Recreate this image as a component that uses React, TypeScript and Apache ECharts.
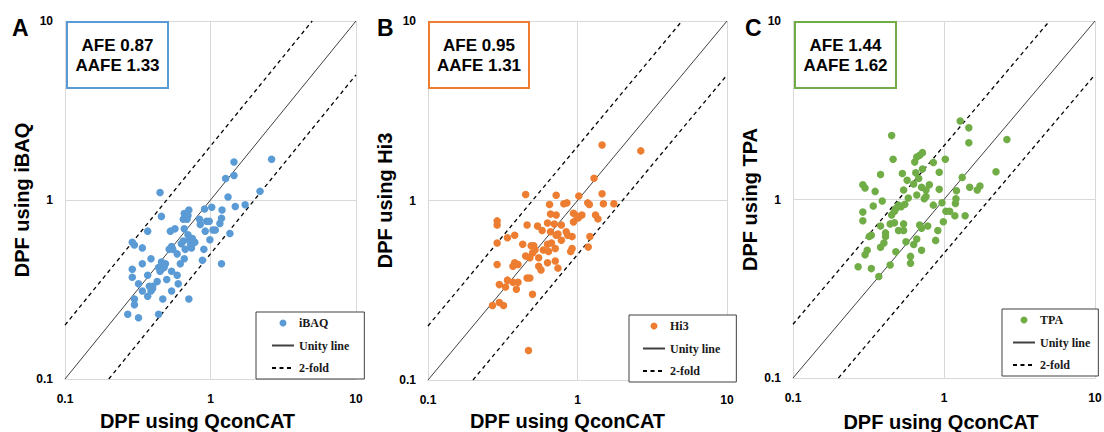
import React, { useEffect, useRef } from "react";
import * as echarts from "echarts";

// ---------- data ----------
const methodNames = ["iBAQ", "Hi3", "TPA"];
const panelLetters = ["A", "B", "C"];
const afeValues = ["0.87", "0.95", "1.44"];
const aafeValues = ["1.33", "1.31", "1.62"];
const xAxisTitle = "DPF using QconCAT";
const yAxisTitles = ["DPF using iBAQ", "DPF using Hi3", "DPF using TPA"];
const legendNames = ["Unity line", "2-fold"];

// [DPF using QconCAT, DPF using method]
const ibaqPoints: [number, number][] = [
  [2.63, 1.69], [1.45, 1.63], [1.45, 1.37], [1.27, 1.32], [0.45, 1.1], [2.19, 1.12], [1.32, 1.04],
  [1.73, 0.94], [1.48, 0.92], [1.2, 0.88], [1.02, 0.91], [0.91, 0.89], [0.71, 0.88], [0.66, 0.84],
  [0.7, 0.82], [0.65, 0.78], [0.46, 0.81], [0.84, 0.78], [0.94, 0.76], [1.19, 0.79], [1.16, 0.74],
  [0.85, 0.73], [0.37, 0.67], [0.53, 0.67], [0.57, 0.69], [0.66, 0.69], [0.92, 0.67], [1.04, 0.68],
  [1.08, 0.68], [1.36, 0.65], [0.29, 0.58], [0.3, 0.56], [0.34, 0.54], [0.7, 0.64], [0.75, 0.61],
  [0.65, 0.59], [0.73, 0.56], [0.78, 0.58], [0.63, 0.57], [0.99, 0.6], [0.9, 0.53], [0.52, 0.53],
  [0.54, 0.55], [0.59, 0.5], [0.66, 0.47], [0.39, 0.47], [0.88, 0.46], [1.19, 0.44], [0.46, 0.45],
  [0.49, 0.44], [0.48, 0.42], [0.44, 0.42], [0.62, 0.44], [0.34, 0.44], [0.29, 0.41], [0.54, 0.4],
  [0.59, 0.38], [0.37, 0.38], [0.29, 0.37], [0.45, 0.4], [0.5, 0.36], [0.43, 0.35], [0.4, 0.33],
  [0.32, 0.34], [0.6, 0.34], [0.34, 0.31], [0.54, 0.31], [0.39, 0.31], [0.37, 0.29], [0.71, 0.28],
  [0.47, 0.28], [0.3, 0.28], [0.3, 0.26], [0.27, 0.23], [0.32, 0.22], [0.44, 0.23], [0.71, 0.6],
  [0.74, 0.54], [0.67, 0.53], [0.55, 0.53], [0.46, 0.41], [0.4, 0.32], [0.98, 0.76], [0.69, 0.78],
  [0.38, 0.33],
];

const hi3Points: [number, number][] = [
  [1.46, 2.04], [2.65, 1.89], [1.29, 1.33], [0.45, 1.08], [0.72, 1.07], [1.02, 1.06], [1.46, 1.09],
  [0.65, 0.95], [0.81, 0.96], [0.85, 0.97], [1.17, 0.97], [1.2, 0.95], [1.49, 0.96], [1.75, 0.96],
  [0.66, 0.84], [0.72, 0.83], [0.94, 0.85], [1.07, 0.83], [1.01, 0.8], [1.32, 0.83], [1.37, 0.79],
  [0.94, 0.76], [0.29, 0.77], [0.29, 0.73], [0.46, 0.73], [0.63, 0.75], [0.7, 0.74], [0.78, 0.73],
  [0.54, 0.72], [0.58, 0.68], [0.66, 0.67], [0.72, 0.64], [0.84, 0.67], [0.92, 0.63], [0.34, 0.62],
  [0.38, 0.64], [0.78, 0.6], [0.67, 0.58], [0.43, 0.57], [0.49, 0.56], [0.51, 0.56], [0.29, 0.58],
  [1.21, 0.63], [1.18, 0.55], [0.92, 0.54], [0.59, 0.53], [0.64, 0.52], [0.71, 0.54], [0.5, 0.51],
  [0.45, 0.49], [0.48, 0.48], [0.55, 0.48], [0.38, 0.45], [0.4, 0.44], [0.37, 0.43], [0.29, 0.44],
  [0.63, 0.45], [0.71, 0.46], [0.74, 0.42], [0.55, 0.43], [0.57, 0.41], [0.46, 0.37], [0.48, 0.37],
  [0.34, 0.36], [0.37, 0.35], [0.4, 0.35], [0.3, 0.34], [0.33, 0.33], [0.39, 0.32], [0.5, 0.3],
  [0.3, 0.27], [0.32, 0.26], [0.27, 0.26], [0.47, 0.146], [0.74, 0.65], [0.86, 0.64], [0.63, 0.57],
  [0.52, 0.53], [0.99, 0.82], [0.9, 0.52],
];

const tpaPoints: [number, number][] = [
  [1.28, 2.75], [1.46, 2.52], [0.45, 2.28], [2.61, 2.17], [1.46, 2.08], [0.72, 1.83], [0.69, 1.77],
  [0.66, 1.73], [0.46, 1.68], [0.64, 1.62], [0.85, 1.61], [1.02, 1.68], [0.72, 1.48], [0.53, 1.4],
  [0.38, 1.38], [0.65, 1.41], [0.93, 1.42], [2.21, 1.43], [0.57, 1.28], [0.68, 1.31], [1.32, 1.33],
  [0.29, 1.21], [0.3, 1.16], [0.54, 1.13], [0.63, 1.22], [0.71, 1.17], [0.76, 1.13], [0.8, 1.21],
  [0.93, 1.14], [1.21, 1.12], [1.48, 1.17], [1.66, 1.13], [1.73, 1.19], [0.35, 1.11], [0.58, 1.02],
  [0.66, 1.06], [0.74, 1.01], [0.76, 1.04], [0.39, 0.98], [1.2, 1.01], [1.19, 0.95], [0.97, 0.96],
  [0.85, 0.93], [0.34, 0.92], [0.5, 0.93], [0.52, 0.91], [0.55, 0.94], [0.29, 0.85], [0.47, 0.86],
  [0.48, 0.89], [1.03, 0.86], [1.09, 0.86], [1.18, 0.81], [1.38, 0.81], [0.29, 0.76], [0.45, 0.82],
  [0.99, 0.75], [0.44, 0.73], [0.47, 0.74], [0.54, 0.73], [0.38, 0.71], [0.69, 0.72], [0.71, 0.69],
  [0.78, 0.71], [0.5, 0.67], [0.54, 0.67], [0.41, 0.65], [0.91, 0.67], [0.33, 0.63], [0.32, 0.62],
  [0.41, 0.62], [0.66, 0.6], [0.88, 0.59], [0.4, 0.57], [0.56, 0.58], [0.63, 0.56], [0.38, 0.54],
  [0.71, 0.52], [0.31, 0.52], [0.48, 0.51], [0.3, 0.49], [0.6, 0.48], [0.6, 0.44], [0.44, 0.43],
  [0.27, 0.42], [0.33, 0.41], [0.37, 0.37],
];

const axisMin = 0.1;
const axisMax = 10;
const unityLine: [number, number][] = [[0.1, 0.1], [10, 10]];
const upperFoldLine: [number, number][] = [[0.1, 0.2], [5, 10]];
const lowerFoldLine: [number, number][] = [[0.2, 0.1], [10, 5]];

const pointSets = [ibaqPoints, hi3Points, tpaPoints];

// ---------- styles / layout ----------
const colors = ["#5b9bd5", "#ed7d31", "#70ad47"];
const SANS = '"Liberation Sans", Arial, Helvetica, sans-serif';
const SERIF = '"Liberation Serif", "Times New Roman", serif';

const grids = [
  { left: 65, top: 21, width: 291, height: 358 },
  { left: 428, top: 21, width: 299, height: 359 },
  { left: 793, top: 21, width: 302, height: 357 },
];
const yNameGaps = [32, 26, 25];
const xNameGaps = [32, 31, 34];
const xNameShift = [13, 10, 3];
const legendBoxes = [
  { left: 256, top: 312, padding: [5, 15, 5, 15] },
  { left: 629, top: 315, padding: [5, 16, 5, 13] },
  { left: 1002, top: 309, padding: [5, 8, 5, 10] },
];
const afeBoxes = [
  { x: 67, y: 22, w: 101, h: 66 },
  { x: 429, y: 22, w: 100, h: 66 },
  { x: 795, y: 22, w: 101, h: 66 },
];
const letterX = [12, 377, 745];

function buildOption() {
  const xAxis: any[] = [];
  const yAxis: any[] = [];
  const series: any[] = [];
  const legend: any[] = [];
  const graphic: any[] = [];

  const axisCommon = (i: number) => ({
    type: "log",
    logBase: 10,
    min: axisMin,
    max: axisMax,
    gridIndex: i,
    axisLine: { show: true, lineStyle: { color: "#d9d9d9", width: 1 } },
    axisTick: { show: false },
    splitLine: { show: true, lineStyle: { color: "#d9d9d9", width: 1 } },
    axisLabel: {
      color: "#000",
      fontFamily: SANS,
      fontWeight: "bold",
      fontSize: 12,
    },
  });

  for (let i = 0; i < 3; i++) {
    xAxis.push({
      ...axisCommon(i),
      name: xAxisTitle,
      nameLocation: "middle",
      nameGap: xNameGaps[i],
      nameTextStyle: {
        color: "#000",
        fontFamily: SANS,
        fontWeight: "bold",
        fontSize: 20,
        padding: [0, xNameShift[i] * 2, 0, 0],
      },
      axisLabel: { ...axisCommon(i).axisLabel, margin: 14 },
    });
    yAxis.push({
      ...axisCommon(i),
      name: yAxisTitles[i],
      nameLocation: "middle",
      nameGap: yNameGaps[i],
      nameTextStyle: {
        color: "#000",
        fontFamily: SANS,
        fontWeight: "bold",
        fontSize: 20,
      },
      axisLabel: { ...axisCommon(i).axisLabel, margin: 12 },
    });

    series.push({
      type: "line",
      name: legendNames[0],
      xAxisIndex: i,
      yAxisIndex: i,
      data: unityLine,
      symbol: "none",
      silent: true,
      lineStyle: { color: "#404040", width: 1, type: "solid" },
      itemStyle: { color: "#404040" },
      z: 2,
    });
    series.push({
      type: "line",
      name: legendNames[1],
      xAxisIndex: i,
      yAxisIndex: i,
      data: upperFoldLine,
      symbol: "none",
      silent: true,
      lineStyle: { color: "#000", width: 1.3, type: [4, 3.5] },
      itemStyle: { color: "#000" },
      z: 2,
    });
    series.push({
      type: "line",
      name: legendNames[1],
      xAxisIndex: i,
      yAxisIndex: i,
      data: lowerFoldLine,
      symbol: "none",
      silent: true,
      lineStyle: { color: "#000", width: 1.3, type: [4, 3.5] },
      itemStyle: { color: "#000" },
      z: 2,
    });
    series.push({
      type: "scatter",
      name: methodNames[i],
      xAxisIndex: i,
      yAxisIndex: i,
      data: pointSets[i],
      symbol: "circle",
      symbolSize: 7.5,
      itemStyle: { color: colors[i], opacity: 1 },
      z: 3,
    });

    const lb = legendBoxes[i];
    legend.push({
      show: true,
      orient: "vertical",
      left: lb.left,
      top: lb.top,
      padding: lb.padding,
      itemGap: 10.5,
      itemWidth: 22,
      itemHeight: 7,
      backgroundColor: "#fff",
      borderColor: "#404040",
      borderWidth: 1,
      selectedMode: false,
      data: [
        { name: methodNames[i] },
        { name: legendNames[0], itemStyle: { opacity: 0 } },
        { name: legendNames[1], itemStyle: { opacity: 0 } },
      ],
      textStyle: {
        fontFamily: SERIF,
        fontWeight: "bold",
        fontSize: 12,
        color: "#1a1a1a",
      },
      z: 10,
    });

    const b = afeBoxes[i];
    graphic.push({
      type: "rect",
      shape: { x: b.x, y: b.y, width: b.w, height: b.h },
      style: { fill: "#fff", stroke: colors[i], lineWidth: 2 },
      z: 100,
    });
    graphic.push({
      type: "text",
      x: b.x + b.w / 2,
      y: b.y + 23,
      style: {
        text: "AFE " + afeValues[i],
        fill: "#000",
        font: `bold 17px ${SANS}`,
        textAlign: "center",
        textVerticalAlign: "middle",
      },
      z: 101,
    });
    graphic.push({
      type: "text",
      x: b.x + b.w / 2,
      y: b.y + 43,
      style: {
        text: "AAFE " + aafeValues[i],
        fill: "#000",
        font: `bold 17px ${SANS}`,
        textAlign: "center",
        textVerticalAlign: "middle",
      },
      z: 101,
    });
    graphic.push({
      type: "text",
      x: letterX[i],
      y: 28,
      style: {
        text: panelLetters[i],
        fill: "#000",
        font: `bold 23px ${SANS}`,
        textAlign: "left",
        textVerticalAlign: "middle",
      },
      z: 101,
    });
  }

  return {
    animation: false,
    backgroundColor: "#fff",
    textStyle: { fontFamily: SANS },
    grid: grids.map((g) => ({ ...g, containLabel: false, outerBoundsMode: "none" })),
    xAxis,
    yAxis,
    legend,
    series,
    graphic,
  };
}

export default function App() {
  const ref = useRef<HTMLDivElement>(null);
  useEffect(() => {
    document.body.style.margin = "0";
    if (!ref.current) return;
    const chart = echarts.init(ref.current, undefined, { renderer: "svg" });
    chart.setOption(buildOption() as any);
    return () => chart.dispose();
  }, []);
  return (
    <div
      ref={ref}
      style={{ position: "absolute", left: 0, top: 0, width: 1104, height: 432 }}
    />
  );
}
